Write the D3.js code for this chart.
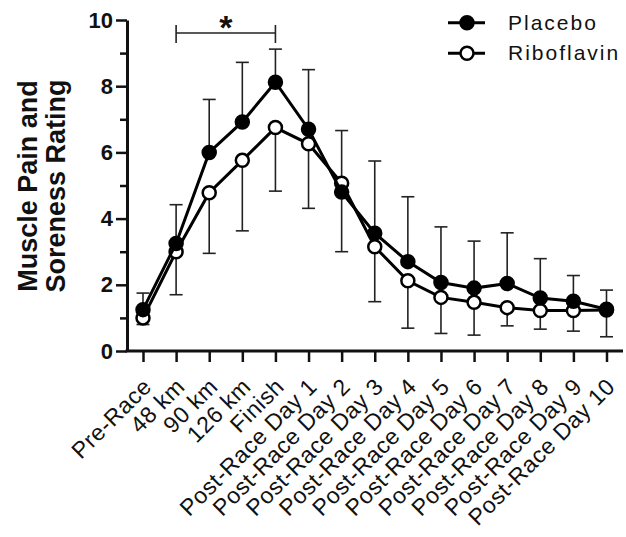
<!DOCTYPE html>
<html>
<head>
<meta charset="utf-8">
<script src="https://cdn.jsdelivr.net/npm/d3@7"></script>
<style>
    body { margin: 0; background: #fff; }
    svg text { font-family: "Liberation Sans", Arial, sans-serif; fill: #111; }
</style>
</head>
<body>
<svg id="chart" width="626" height="537"></svg>
<script>
const categories = ["Pre-Race", "48 km", "90 km", "126 km", "Finish",
    "Post-Race Day 1", "Post-Race Day 2", "Post-Race Day 3", "Post-Race Day 4", "Post-Race Day 5",
    "Post-Race Day 6", "Post-Race Day 7", "Post-Race Day 8", "Post-Race Day 9", "Post-Race Day 10"];
const placebo = [1.25, 3.25, 6.0, 6.92, 8.12, 6.7, 4.8, 3.56, 2.7, 2.07, 1.9, 2.04, 1.6, 1.5, 1.26];
const placeboSD = [0.5, 1.17, 1.6, 1.8, 1.0, 1.8, 1.86, 2.18, 1.96, 1.68, 1.42, 1.53, 1.19, 0.78, 0.58];
const riboflavin = [1.0, 3.0, 4.78, 5.76, 6.75, 6.26, 5.07, 3.15, 2.12, 1.62, 1.47, 1.31, 1.22, 1.22, 1.24];
const riboflavinSD = [0.2, 1.3, 1.83, 2.13, 1.92, 1.95, 2.07, 1.66, 1.43, 1.09, 0.99, 0.55, 0.56, 0.62, 0.81];
const yMajor = [0, 2, 4, 6, 8, 10];
const yMinor = [1, 3, 5, 7, 9];
const sigFrom = "48 km", sigTo = "Finish";

const svg = d3.select("#chart");
const x = d3.scalePoint().domain(categories).range([143, 606.5]);
const y = d3.scaleLinear().domain([0, 10]).range([351, 20]);
const axisX = 127;

// y axis
let gy = svg.append("g").attr("transform", `translate(${axisX},0)`);
gy.call(d3.axisLeft(y).tickValues(yMajor).tickSize(11).tickSizeOuter(0).tickPadding(3));
gy.call(g => g.append("g").call(d3.axisLeft(y).tickValues(yMinor).tickSize(7).tickFormat("")).select(".domain").remove());
gy.selectAll("line").attr("stroke", "#111").attr("stroke-width", 2.5);
gy.select(".domain").attr("stroke", "#111").attr("stroke-width", 3);
gy.selectAll("text").style("font-size", "22px").style("font-weight", "bold").attr("fill", "#111");

// x axis
let gx = svg.append("g").attr("transform", `translate(0,${y(0)})`);
gx.call(d3.axisBottom(x).tickSize(11).tickSizeOuter(0).tickFormat(""));
gx.select(".domain").remove();
gx.selectAll("line").attr("stroke", "#111").attr("stroke-width", 2.5);
gx.append("line").attr("x1", axisX - 1.5).attr("x2", 623).attr("stroke", "#111").attr("stroke-width", 3);

svg.append("g").selectAll("text").data(categories).join("text")
    .attr("transform", d => `translate(${x(d) + 10},${y(0) + 37}) rotate(-45)`)
    .attr("text-anchor", "end")
    .style("font-size", "23px")
    .style("letter-spacing", "0.6px")
    .text(d => d);

// y title
svg.append("text").attr("transform", "translate(37,186) rotate(-90)")
    .attr("text-anchor", "middle").style("font-size", "27px").style("font-weight", "bold")
    .text("Muscle Pain and");
svg.append("text").attr("transform", "translate(65,186) rotate(-90)")
    .attr("text-anchor", "middle").style("font-size", "27px").style("font-weight", "bold")
    .text("Soreness Rating");

// error bars
const cap = 6.5;
function errorBars(vals, sd, dir) {
    let g = svg.append("g").attr("stroke", "#222").attr("stroke-width", 1.6);
    categories.forEach((c, i) => {
        let end = y(vals[i] + dir * sd[i]);
        g.append("line").attr("x1", x(c)).attr("x2", x(c)).attr("y1", y(vals[i])).attr("y2", end);
        g.append("line").attr("x1", x(c) - cap).attr("x2", x(c) + cap).attr("y1", end).attr("y2", end);
    });
}
errorBars(placebo, placeboSD, 1);
errorBars(riboflavin, riboflavinSD, -1);

const line = d3.line().x((d, i) => x(categories[i])).y(d => y(d));
function series(vals, fill) {
    svg.append("path").attr("d", line(vals)).attr("fill", "none")
        .attr("stroke", "#000").attr("stroke-width", 3);
    svg.append("g").selectAll("circle").data(vals).join("circle")
        .attr("cx", (d, i) => x(categories[i])).attr("cy", d => y(d)).attr("r", 6.5)
        .attr("fill", fill).attr("stroke", "#000").attr("stroke-width", 2.5);
}
series(riboflavin, "#fff");
series(placebo, "#000");

// significance bracket
let sig = svg.append("g").attr("stroke", "#222").attr("stroke-width", 1.6);
sig.append("line").attr("x1", x(sigFrom)).attr("x2", x(sigTo)).attr("y1", 33).attr("y2", 33);
sig.append("line").attr("x1", x(sigFrom)).attr("x2", x(sigFrom)).attr("y1", 25).attr("y2", 43);
sig.append("line").attr("x1", x(sigTo)).attr("x2", x(sigTo)).attr("y1", 25).attr("y2", 43);
svg.append("text").attr("x", (x(sigFrom) + x(sigTo)) / 2).attr("y", 39)
    .attr("text-anchor", "middle").style("font-size", "34px").style("font-weight", "bold").text("*");

// legend
const legend = [["Placebo", "#000", 22.7], ["Riboflavin", "#fff", 53.3]];
let lg = svg.append("g").selectAll("g").data(legend).join("g")
    .attr("transform", d => `translate(0,${d[2]})`);
lg.append("line").attr("x1", 448).attr("x2", 485).attr("stroke", "#000").attr("stroke-width", 3);
lg.append("circle").attr("cx", 467).attr("r", 6.5).attr("fill", d => d[1])
    .attr("stroke", "#000").attr("stroke-width", 2.5);
lg.append("text").attr("x", 508).attr("y", 7).style("font-size", "21px")
    .style("letter-spacing", "2px").text(d => d[0]);
</script>
</body>
</html>
